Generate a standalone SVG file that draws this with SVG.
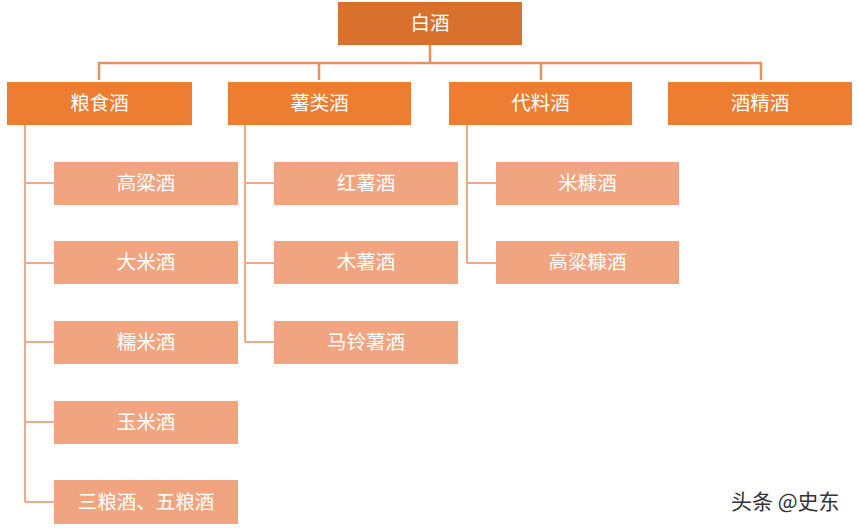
<svg xmlns="http://www.w3.org/2000/svg" width="859" height="528" viewBox="0 0 859 528">
<style>
.t{font-family:"Noto Sans CJK SC","Liberation Sans",sans-serif;font-size:19.5px;text-anchor:middle;dominant-baseline:central;fill:#ffffff}
.root{fill:#D9712E}
.l1{fill:#ED7D31}
.l2{fill:#F0A580}
.c1{stroke:#E4935C;stroke-width:2.5;fill:none}
.c2{stroke:#EBAA88;stroke-width:2;fill:none}
.wm{font-family:"Noto Sans CJK SC","Liberation Sans",sans-serif;font-size:21px;fill:#333333}
</style>
<rect width="859" height="528" fill="#ffffff"/>
<g id="connectors">
<path class="c1" d="M430,45V63M99,80V63H761V80M319,63V80M541,63V80"/>
<path class="c2" d="M25,125V502M25,183H54M25,263H54M25,342H54M25,422H54M25,502H54"/>
<path class="c2" d="M245,125V342M245,183H274M245,263H274M245,342H274"/>
<path class="c2" d="M467,125V263M467,183H496M467,263H496"/>
</g>
<g id="n-baijiu"><rect class="root" x="338" y="2" width="184" height="43"/><text class="t" x="430" y="21.5" fill="#fdeee0">白酒</text></g>
<g id="n-liangshi"><rect class="l1" x="7" y="82" width="185" height="43"/><text class="t" x="99.5" y="101.5">粮食酒</text></g>
<g id="n-shulei"><rect class="l1" x="228" y="82" width="183" height="43"/><text class="t" x="319.5" y="101.5">薯类酒</text></g>
<g id="n-dailiao"><rect class="l1" x="449" y="82" width="183" height="43"/><text class="t" x="540.5" y="101.5">代料酒</text></g>
<g id="n-jiujing"><rect class="l1" x="668" y="82" width="184" height="43"/><text class="t" x="760" y="101.5">酒精酒</text></g>
<g id="n-gaoliang"><rect class="l2" x="54" y="162" width="184" height="43"/><text class="t" x="146" y="181.5">高粱酒</text></g>
<g id="n-dami"><rect class="l2" x="54" y="241" width="184" height="43"/><text class="t" x="146" y="260.5">大米酒</text></g>
<g id="n-nuomi"><rect class="l2" x="54" y="321" width="184" height="43"/><text class="t" x="146" y="340.5">糯米酒</text></g>
<g id="n-yumi"><rect class="l2" x="54" y="401" width="184" height="43"/><text class="t" x="146" y="420.5">玉米酒</text></g>
<g id="n-sanliang"><rect class="l2" x="54" y="480" width="184" height="44"/><text class="t" x="146" y="500">三粮酒、五粮酒</text></g>
<g id="n-hongshu"><rect class="l2" x="274" y="162" width="184" height="43"/><text class="t" x="366" y="181.5">红薯酒</text></g>
<g id="n-mushu"><rect class="l2" x="274" y="241" width="184" height="43"/><text class="t" x="366" y="260.5">木薯酒</text></g>
<g id="n-malingshu"><rect class="l2" x="274" y="321" width="184" height="43"/><text class="t" x="366" y="340.5">马铃薯酒</text></g>
<g id="n-mikang"><rect class="l2" x="496" y="162" width="183" height="43"/><text class="t" x="587.5" y="181.5">米糠酒</text></g>
<g id="n-gaoliangkang"><rect class="l2" x="496" y="241" width="183" height="43"/><text class="t" x="587.5" y="260.5">高粱糠酒</text></g>
<text class="wm" x="731" y="509">头条 @史东</text>
</svg>
